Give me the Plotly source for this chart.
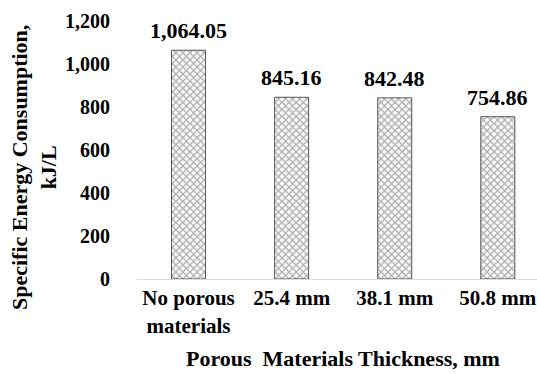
import plotly.graph_objects as go

categories = ["No porous<br>materials", "25.4 mm", "38.1 mm", "50.8 mm"]
values = [1064.05, 845.16, 842.48, 754.86]
value_labels = ["1,064.05", "845.16", "842.48", "754.86"]
y_ticks = [0, 200, 400, 600, 800, 1000, 1200]
y_tick_labels = ["0", "200", "400", "600", "800", "1,000", "1,200"]

FONT = "Liberation Serif"

fig = go.Figure()
fig.add_trace(go.Bar(
    x=categories,
    y=values,
    width=0.33,
    marker=dict(
        color="white",
        line=dict(color="#555555", width=1),
        pattern=dict(shape="x", fgcolor="#6a6a6a", bgcolor="white", size=5, solidity=0.5),
    ),
))

annotations = [
    dict(x=c, y=v, text=t, xref="x", yref="y", showarrow=False,
         xanchor="center", yanchor="bottom", yshift=5,
         font=dict(family=FONT, size=22, color="black", weight="bold"))
    for c, v, t in zip(categories, values, value_labels)
]
annotations += [
    dict(text="Specific Energy Consumption,<br>kJ/L", textangle=-90,
         xref="paper", yref="paper", x=-0.2575, y=0.43,
         xanchor="center", yanchor="middle", showarrow=False,
         font=dict(family=FONT, size=22, color="black", weight="bold")),
    dict(text="Porous  Materials Thickness, mm",
         xref="paper", yref="paper", x=0.514, y=-0.31,
         xanchor="center", yanchor="middle", showarrow=False,
         font=dict(family=FONT, size=22, color="black", weight="bold")),
]

fig.update_layout(
    width=537, height=374,
    margin=dict(l=137, r=0, t=21, b=95, autoexpand=False),
    paper_bgcolor="white", plot_bgcolor="white",
    showlegend=False,
    font=dict(family=FONT, color="black"),
    xaxis=dict(
        range=[-0.5, 3.38], automargin=False,
        showline=True, linecolor="#d9d9d9", linewidth=1,
        showgrid=False, zeroline=False,
        tickfont=dict(family=FONT, size=21, color="black", weight="bold"),
        ticks="",
    ),
    yaxis=dict(
        range=[0, 1200], automargin=False,
        tickvals=y_ticks, ticktext=y_tick_labels,
        showgrid=False, zeroline=False, showline=False,
        tickfont=dict(family=FONT, size=20, color="black", weight="bold"),
        ticks="", ticklabelstandoff=26,
    ),
    annotations=annotations,
)

fig.write_html(
    "out.html",
    config={"displayModeBar": False},
    post_script="document.body.style.margin='0';document.body.style.overflow='hidden';",
)
